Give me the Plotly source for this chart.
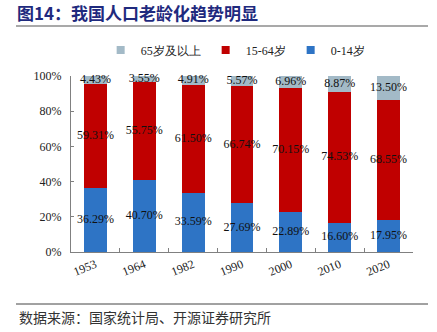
import plotly.graph_objects as go

years = ["1953", "1964", "1982", "1990", "2000", "2010", "2020"]
age_0_14 = [36.29, 40.70, 33.59, 27.69, 22.89, 16.60, 17.95]
age_15_64 = [59.31, 55.75, 61.50, 66.74, 70.15, 74.53, 68.55]
age_65_plus = [4.43, 3.55, 4.91, 5.57, 6.96, 8.87, 13.50]
y_ticks = [0, 20, 40, 60, 80, 100]

series = [
    ("0-14岁", age_0_14, "#2E74C5"),
    ("15-64岁", age_15_64, "#C00000"),
    ("65岁及以上", age_65_plus, "#A3BAC7"),
]

serif = "Liberation Serif, Times New Roman, serif"

fig = go.Figure()
base = [0.0] * len(years)
label_traces = []
for name, vals, color in series:
    fig.add_trace(go.Bar(
        x=years, y=vals, name=name, marker_color=color, marker_line_width=0,
        showlegend=False,
    ))
    mids = [b + v / 2 for b, v in zip(base, vals)]
    label_traces.append(go.Scatter(
        x=years, y=mids, mode="text", text=[f"{v:.2f}%" for v in vals],
        textposition="middle center", showlegend=False, hoverinfo="skip",
        textfont=dict(family=serif, size=12, color="#111"), cliponaxis=False,
    ))
    base = [b + v for b, v in zip(base, vals)]
for t in label_traces:
    fig.add_trace(t)
# legend entries (order as in reference)
for name, vals, color in reversed(series):
    fig.add_trace(go.Scatter(
        x=[None], y=[None], mode="markers", name=name,
        marker=dict(symbol="square", size=8, color=color),
    ))

fig.update_layout(
    barmode="stack", bargap=0.53,
    width=437, height=332,
    margin=dict(l=71, r=24, t=76, b=80),
    paper_bgcolor="white", plot_bgcolor="white",
    font=dict(family=serif, size=12, color="#222"),
    legend=dict(orientation="h", x=0.48, xanchor="center", y=1.148, yanchor="middle",
                font=dict(family=serif, size=12, color="#222"), itemwidth=30,
                traceorder="normal", tracegroupgap=0, bgcolor="rgba(0,0,0,0)"),
    xaxis=dict(type="category", showline=True, linecolor="#808080", linewidth=1,
               ticks="inside", ticklen=4, tickcolor="#808080", tickson="boundaries",
               tickangle=-22, tickfont=dict(family=serif, size=12, color="#222"),
               showgrid=False, zeroline=False),
    yaxis=dict(range=[0, 100], tickvals=y_ticks, ticktext=[f"{v}%" for v in y_ticks],
               showline=True, linecolor="#808080", linewidth=1, ticks="inside", ticklen=3,
               tickcolor="#808080", showgrid=False, zeroline=False, ticklabelstandoff=6,
               tickfont=dict(family=serif, size=12, color="#222")),
    title=dict(text="<b>图14：我国人口老龄化趋势明显</b>", x=17/437, xanchor="left",
               xref="container", y=1-14/332, yref="container", yanchor="middle",
               font=dict(family="Noto Sans CJK SC, sans-serif", size=17, color="#1F2A7E")),
)

fig.add_shape(type="line", xref="paper", yref="paper",
              x0=(16-71)/342, x1=(428-71)/342, y0=(252-26)/176, y1=(252-26)/176,
              line=dict(color="#8C8C8C", width=1.5))
fig.add_shape(type="line", xref="paper", yref="paper",
              x0=(16-71)/342, x1=(428-71)/342, y0=(252-304)/176, y1=(252-304)/176,
              line=dict(color="#444", width=1))
fig.add_annotation(text="数据来源：国家统计局、开源证券研究所", xref="paper", yref="paper",
                   x=(17-71)/342, xanchor="left", y=(252-317)/176, yanchor="middle",
                   showarrow=False,
                   font=dict(family="Noto Sans CJK SC, sans-serif", size=14, color="#333"))

fig.write_html("out.html")
